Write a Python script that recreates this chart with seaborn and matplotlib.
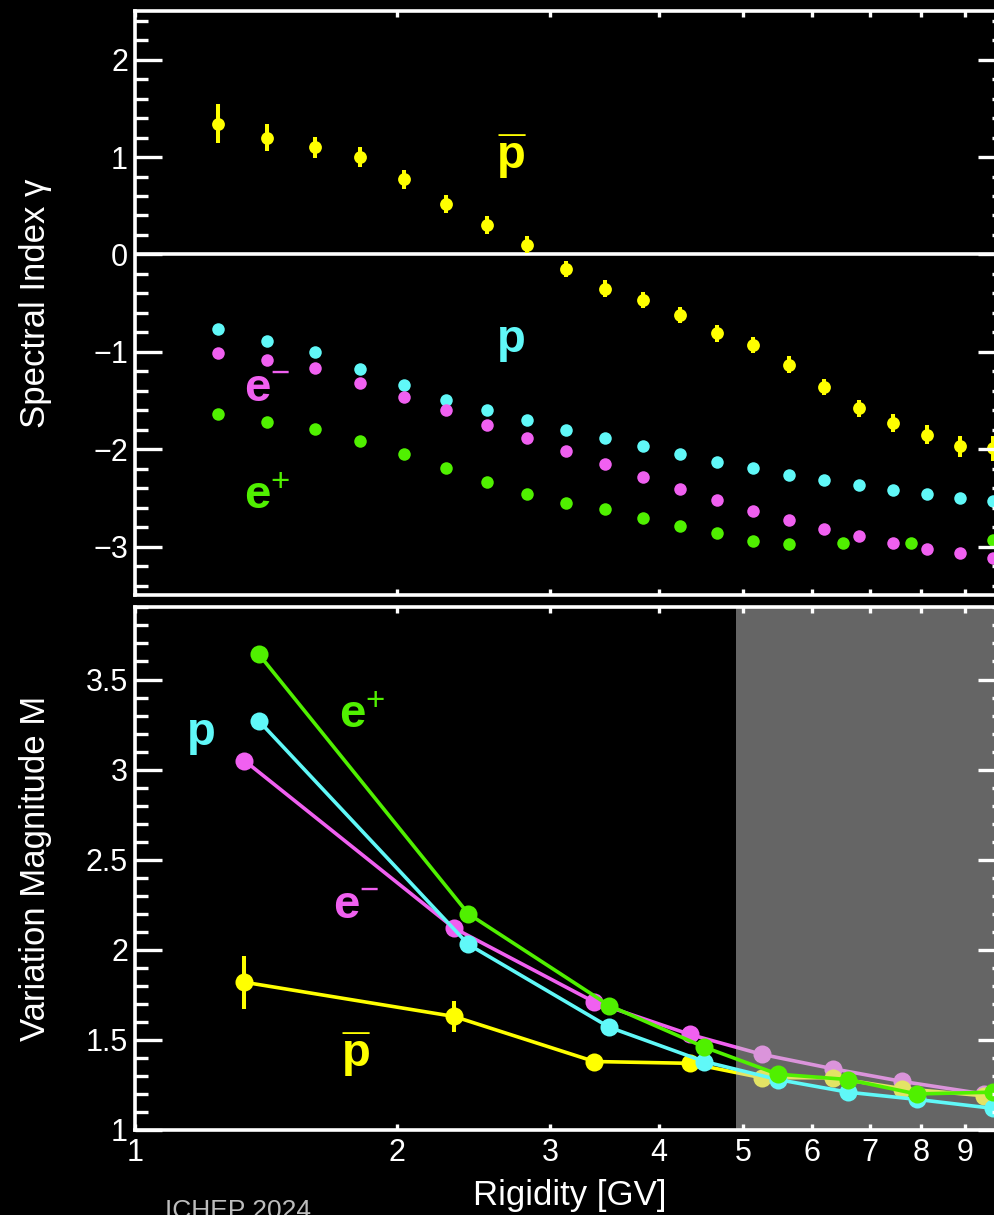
import matplotlib
matplotlib.use("Agg")
import matplotlib.pyplot as plt
import seaborn as sns
from matplotlib.ticker import FixedLocator, MultipleLocator, NullLocator, FixedFormatter

# ---------------- data ----------------
# Top panel: spectral index gamma vs rigidity
rig_top = [1.245, 1.418, 1.610, 1.814, 2.037, 2.278, 2.537, 2.822, 3.132, 3.469,
           3.834, 4.231, 4.663, 5.133, 5.646, 6.199, 6.795, 7.439, 8.141, 8.885, 9.696]
rig_top_ep = [1.245, 1.418, 1.610, 1.814, 2.037, 2.278, 2.537, 2.822, 3.132, 3.469,
              3.834, 4.231, 4.663, 5.133, 5.646, 6.508, 7.798, 9.696]
gamma_pbar = [1.34, 1.20, 1.10, 1.00, 0.77, 0.52, 0.30, 0.10, -0.15, -0.35,
              -0.47, -0.62, -0.81, -0.93, -1.13, -1.36, -1.58, -1.73, -1.85, -1.97, -1.99]
gamma_pbar_err = [0.20, 0.14, 0.11, 0.10, 0.095, 0.09, 0.09, 0.085, 0.085, 0.085,
                  0.085, 0.085, 0.085, 0.085, 0.085, 0.085, 0.09, 0.09, 0.10, 0.11, 0.13]
gamma_p = [-0.77, -0.89, -1.00, -1.18, -1.34, -1.49, -1.60, -1.70, -1.80, -1.88,
           -1.97, -2.05, -2.13, -2.19, -2.26, -2.32, -2.37, -2.42, -2.46, -2.50, -2.53]
gamma_em = [-1.01, -1.08, -1.17, -1.32, -1.46, -1.60, -1.75, -1.88, -2.02, -2.15,
            -2.28, -2.41, -2.52, -2.63, -2.73, -2.82, -2.89, -2.96, -3.02, -3.07, -3.12]
gamma_ep = [-1.64, -1.72, -1.79, -1.92, -2.05, -2.19, -2.34, -2.46, -2.55, -2.61,
            -2.71, -2.79, -2.86, -2.94, -2.97, -2.96, -2.96, -2.93]

# Bottom panel: variation magnitude M vs rigidity
rig_M_pbar_em = [1.336, 2.327, 3.373, 4.345, 5.253, 6.339, 7.607, 9.46]
rig_M_p_ep = [1.388, 2.416, 3.510, 4.511, 5.480, 6.596, 7.913, 9.696]
M_pbar = [1.82, 1.63, 1.38, 1.37, 1.29, 1.29, 1.23, 1.19]
M_pbar_err = [0.146, 0.086, 0.03, 0.03, 0.03, 0.03, 0.03, 0.03]
M_em = [3.05, 2.12, 1.71, 1.53, 1.42, 1.34, 1.27, 1.20]
M_p = [3.27, 2.03, 1.57, 1.38, 1.28, 1.21, 1.17, 1.12]
M_ep = [3.64, 2.20, 1.69, 1.46, 1.31, 1.28, 1.20, 1.21]

x_ticks = [1, 2, 3, 4, 5, 6, 7, 8, 9]
x_ticklabels = ["1", "2", "3", "4", "5", "6", "7", "8", "9"]
shade_start = 4.91
shade_end = 10

# ---------------- style ----------------
C_PBAR = "#ffff00"
C_P = "#60f8f8"
C_EM = "#f060f0"
C_EP = "#50f000"

sns.set_theme(style="dark")
plt.rcParams.update({
    "font.family": ["Liberation Sans", "DejaVu Sans"],
    "figure.facecolor": "black",
    "axes.facecolor": "black",
    "axes.edgecolor": "white",
    "axes.labelcolor": "white",
    "text.color": "white",
    "xtick.color": "white",
    "ytick.color": "white",
    "axes.grid": False,
    "axes.linewidth": 2.6,
    "mathtext.fontset": "custom",
    "mathtext.rm": "Liberation Sans",
    "mathtext.bf": "Liberation Sans:bold",
    "mathtext.it": "Liberation Sans:italic",
})

fig = plt.figure(figsize=(9.95, 12.15), dpi=100)
L, W = 0.13568, 0.87437
ax1 = fig.add_axes([L, 0.5100, W, 0.4810])
ax2 = fig.add_axes([L, 0.06996, W, 0.4301])

for ax in (ax1, ax2):
    ax.set_xscale("log")

ann_kw = dict(fontsize=34, ha="center", va="baseline", fontweight="bold")
# antiproton symbol: heavy bar (bold underscore on a first line) above a bold 'p'
PBAR = "_\np"


def pbar_label(ax, x, y, color):
    ax.text(x, y, PBAR, color=color, linespacing=0.81, multialignment="center", **ann_kw)


# ---- top panel ----
ax1.axhline(0, color="white", lw=2.6, zorder=1)
ax1.errorbar(rig_top, gamma_pbar, yerr=gamma_pbar_err, fmt="none",
             ecolor=C_PBAR, elinewidth=2.9, capsize=0, zorder=3)
sns.scatterplot(x=rig_top, y=gamma_pbar, color=C_PBAR, s=85, linewidth=0, ax=ax1, zorder=4)
sns.scatterplot(x=rig_top, y=gamma_p, color=C_P, s=81, linewidth=0, ax=ax1, zorder=4)
sns.scatterplot(x=rig_top, y=gamma_em, color=C_EM, s=81, linewidth=0, ax=ax1, zorder=4)
sns.scatterplot(x=rig_top_ep, y=gamma_ep, color=C_EP, s=81, linewidth=0, ax=ax1, zorder=4)

ax1.set_xlim(1, 10)
ax1.set_ylim(-3.5, 2.5)
ax1.yaxis.set_major_locator(MultipleLocator(1))
ax1.yaxis.set_minor_locator(MultipleLocator(0.2))
ax1.set_ylabel("Spectral Index \u03b3", fontsize=25)

pbar_label(ax1, 2.71, 0.89, C_PBAR)
ax1.text(2.71, -1.00, "p", color=C_P, **ann_kw)
ax1.text(1.418, -1.51, r"$\mathbf{e}^{-}$", color=C_EM, **ann_kw)
ax1.text(1.418, -2.61, r"$\mathbf{e}^{+}$", color=C_EP, **ann_kw)

# ---- bottom panel ----
sns.lineplot(x=rig_M_pbar_em, y=M_em, color=C_EM, lw=2.6, marker="o", markersize=13,
             markeredgewidth=0, ax=ax2, zorder=2)
ax2.errorbar(rig_M_pbar_em, M_pbar, yerr=M_pbar_err, fmt="none",
             ecolor=C_PBAR, elinewidth=2.9, capsize=0, zorder=3)
sns.lineplot(x=rig_M_pbar_em, y=M_pbar, color=C_PBAR, lw=2.6, marker="o", markersize=13,
             markeredgewidth=0, ax=ax2, zorder=3)
ax2.axvspan(shade_start, shade_end, color="#c8c8c8", alpha=0.51, lw=0, zorder=4)
sns.lineplot(x=rig_M_p_ep, y=M_p, color=C_P, lw=2.6, marker="o", markersize=13,
             markeredgewidth=0, ax=ax2, zorder=5)
sns.lineplot(x=rig_M_p_ep, y=M_ep, color=C_EP, lw=2.6, marker="o", markersize=13,
             markeredgewidth=0, ax=ax2, zorder=6)

ax2.set_xlim(1, 10)
ax2.set_ylim(1, 3.9)
ax2.yaxis.set_major_locator(MultipleLocator(0.5))
ax2.yaxis.set_minor_locator(MultipleLocator(0.1))
ax2.yaxis.set_major_formatter(plt.FuncFormatter(lambda v, p: f"{v:g}"))
ax2.set_ylabel("Variation Magnitude M", fontsize=25)
ax2.set_xlabel("Rigidity [GV]", fontsize=25, labelpad=8)

ax2.text(1.191, 3.137, "p", color=C_P, **ann_kw)
ax2.text(1.824, 3.234, r"$\mathbf{e}^{+}$", color=C_EP, **ann_kw)
ax2.text(1.795, 2.172, r"$\mathbf{e}^{-}$", color=C_EM, **ann_kw)
pbar_label(ax2, 1.795, 1.355, C_PBAR)

# ---- shared axis styling ----
for ax in (ax1, ax2):
    ax.xaxis.set_major_locator(FixedLocator(x_ticks))
    ax.xaxis.set_minor_locator(NullLocator())
    ax.tick_params(axis="x", which="both", direction="in", top=True, bottom=True,
                   length=4.3, width=2.4, labelsize=22, pad=6)
    ax.tick_params(axis="y", which="major", direction="in", left=True, right=True,
                   length=19.4, width=2.4, labelsize=22, pad=5)
    ax.tick_params(axis="y", which="minor", direction="in", left=True, right=True,
                   length=9.4, width=2.4)
    for sp in ax.spines.values():
        sp.set_color("white")
        sp.set_linewidth(2.6)
        sp.set_zorder(10)
    ax.xaxis.set_zorder(10)
    ax.yaxis.set_zorder(10)
    ax.yaxis.set_label_coords(-0.0955, 0.5)

ax1.xaxis.set_major_formatter(FixedFormatter([""] * len(x_ticks)))
ax1.tick_params(axis="x", labelbottom=False)
ax2.xaxis.set_major_formatter(FixedFormatter(x_ticklabels))

fig.text(165 / 995, 1 - 1199 / 1215, "ICHEP 2024", ha="left", va="top",
         fontsize=19, color="#bdbdbd")

fig.savefig("out.png", dpi=100, facecolor="black")
